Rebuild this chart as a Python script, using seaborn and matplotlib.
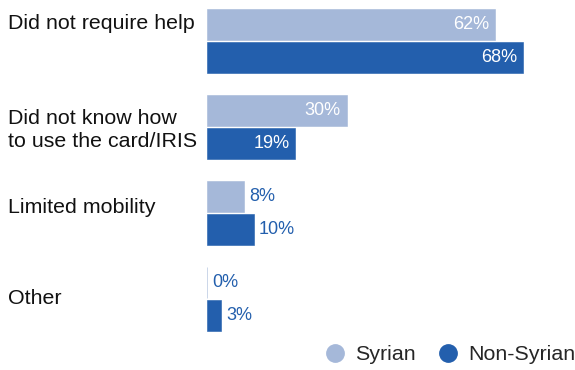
import matplotlib
matplotlib.use("Agg")
import matplotlib.pyplot as plt
import matplotlib.transforms as mtransforms
from matplotlib.lines import Line2D
import pandas as pd
import seaborn as sns

# Reasons for not using the card, share of respondents by nationality group
reasons = ["Did not require help", "Did not know how\nto use the card/IRIS",
           "Limited mobility", "Other"]
groups = ["Syrian", "Non-Syrian"]
syrian = [62, 30, 8, 0]
non_syrian = [68, 19, 10, 3]

light = "#A5B8D9"
dark = "#235FAD"
palette = {"Syrian": light, "Non-Syrian": dark}

df = pd.DataFrame({
    "reason": reasons * 2,
    "group": [groups[0]] * len(reasons) + [groups[1]] * len(reasons),
    "share": syrian + non_syrian,
})

sns.set_style("white")
plt.rcParams["font.family"] = ["Liberation Sans", "DejaVu Sans"]

W, H = 575, 370
fig = plt.figure(figsize=(W / 100, H / 100), dpi=100)
ax = fig.add_axes([207 / W, (H - 342) / H, (W - 207) / W, 342 / H])

sns.barplot(data=df, y="reason", x="share", hue="group", order=reasons,
            hue_order=groups, palette=palette, orient="h", width=0.767,
            gap=0.06, saturation=1, legend=False, ax=ax)

for cont, color in zip(ax.containers, [light, dark]):
    for p in cont.patches:
        p.set_edgecolor(color)
        p.set_linewidth(0.4)

ax.set_xlim(0, (W - 207) / 4.65)
ax.set_ylim(3.5, 3.5 - 342 / 86)
ax.set_xlabel("")
ax.set_ylabel("")
ax.set_xticks([])
ax.set_yticks([])
for s in ax.spines.values():
    s.set_visible(False)

# value labels: inside the bar end for long bars, just past it for short ones
px = 1 / 4.65
for cont, vals in zip(ax.containers, [syrian, non_syrian]):
    for p, v in zip(cont.patches, vals):
        yc = p.get_y() + p.get_height() / 2
        if v >= 15:
            ax.text(v - 6 * px, yc, f"{v}%", ha="right", va="center",
                    color="white", fontsize=13)
        else:
            ax.text(v + 5 * px, yc, f"{v}%", ha="left", va="center",
                    color=dark, fontsize=13)

# category labels at the left margin
trans = mtransforms.blended_transform_factory(fig.transFigure, ax.transData)
label_y = [-0.2, 0.035, -0.06, -0.01]
for i, (r, dy) in enumerate(zip(reasons, label_y)):
    ax.text(8 / W, i + dy, r, transform=trans, ha="left", va="center",
            fontsize=15.4, color="#111111", linespacing=1.3)

handles = [Line2D([], [], marker="o", linestyle="", markersize=12.5,
                  markerfacecolor=palette[g], markeredgecolor=palette[g])
           for g in groups]
fig.legend(handles, groups, loc="center right",
           bbox_to_anchor=(1.0, 1 - 355 / H), ncol=2, frameon=False,
           fontsize=15.4, handletextpad=0.45, columnspacing=1.0,
           borderpad=0, borderaxespad=0, handlelength=1.0)

fig.savefig("out.png", dpi=100)
